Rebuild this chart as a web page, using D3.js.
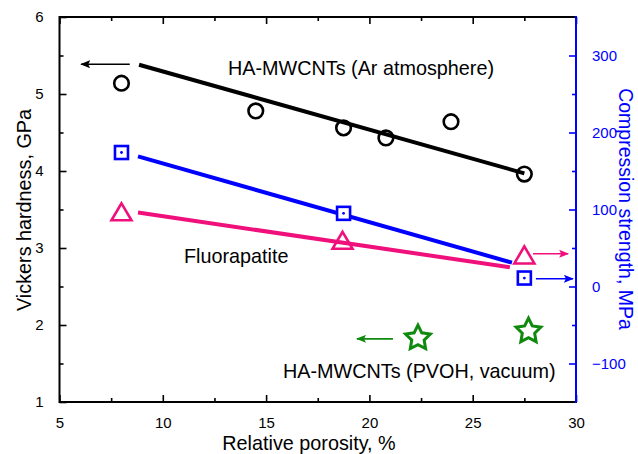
<!DOCTYPE html>
<html>
<head>
<meta charset="utf-8">
<script src="https://cdn.jsdelivr.net/npm/d3@7/dist/d3.min.js"></script>
<style>
  html, body { margin: 0; padding: 0; background: #ffffff; }
  svg { display: block; font-family: Arial, "Liberation Sans", sans-serif; }
</style>
</head>
<body>
<svg id="chart" width="638" height="454"></svg>
<script>
// Hardness (left axis, GPa) and compression strength (right axis, MPa) vs porosity
const arPorosity = [8.0, 14.5, 18.75, 20.8, 23.95, 27.5];
const arHardness = [5.14, 4.78, 4.56, 4.43, 4.64, 3.96];
const arFitX = [8.85, 27.5];
const arFitY = [5.38, 3.97];

const faSquarePorosity = [8.0, 18.75, 27.5];
const faSquareStrength = [174, 95, 11];
const faSquareFitX = [8.8, 26.9];
const faSquareFitY = [169, 31];

const faTrianglePorosity = [8.0, 18.7, 27.5];
const faTriangleStrength = [97, 60, 41];
const faTriangleFitX = [8.8, 26.8];
const faTriangleFitY = [96, 25];

const pvohPorosity = [22.35, 27.7];
const pvohHardness = [1.83, 1.92];

const xTicks = [5, 10, 15, 20, 25, 30];
const xMinor = [7.5, 12.5, 17.5, 22.5, 27.5];
const leftTicks = [1, 2, 3, 4, 5, 6];
const leftMinor = [1.5, 2.5, 3.5, 4.5, 5.5];
const rightTicks = [-100, 0, 100, 200, 300];
const rightMinor = [-50, 50, 150, 250];

const black = "#000000", blue = "#0000ff", pink = "#f0107c", green = "#0f8a0f";

const svg = d3.select("#chart");
const L = 59.5, R = 576, T = 17, B = 402;

const x = d3.scaleLinear().domain([5, 30]).range([L, R]);
const yL = d3.scaleLinear().domain([1, 6]).range([B, T]);
const yR = d3.scaleLinear().domain([-150, 350]).range([B, T]);

// arrowheads
const defs = svg.append("defs");
[["ahBlack", black], ["ahBlue", blue], ["ahPink", pink], ["ahGreen", green]].forEach(([id, c]) => {
  defs.append("marker").attr("id", id).attr("viewBox", "0 0 10 8")
    .attr("refX", 9).attr("refY", 4).attr("markerWidth", 10).attr("markerHeight", 8)
    .attr("markerUnits", "userSpaceOnUse").attr("orient", "auto")
    .append("path").attr("d", "M0,0 L10,4 L0,8 L2,4 Z").attr("fill", c);
});

// axes
function styleAxis(g, color, fs) {
  g.select(".domain").remove();
  g.selectAll("line").attr("stroke", color).attr("stroke-width", 1.6);
  g.selectAll("text").attr("fill", color).attr("font-size", fs)
    .attr("font-family", "Arial, 'Liberation Sans', sans-serif");
}
const fs = 15;
svg.append("g").attr("transform", `translate(0,${B})`)
  .call(d3.axisBottom(x).tickValues(xTicks).tickSize(-7).tickPadding(15).tickFormat(d3.format("d")))
  .call(g => styleAxis(g, black, fs));
svg.append("g").attr("transform", `translate(0,${B})`)
  .call(d3.axisBottom(x).tickValues(xMinor).tickSize(-4).tickFormat(""))
  .call(g => styleAxis(g, black, fs));
svg.append("g").attr("transform", `translate(0,${T})`)
  .call(d3.axisTop(x).tickValues(xTicks).tickSize(-7).tickFormat(""))
  .call(g => styleAxis(g, black, fs));
svg.append("g").attr("transform", `translate(0,${T})`)
  .call(d3.axisTop(x).tickValues(xMinor).tickSize(-4).tickFormat(""))
  .call(g => styleAxis(g, black, fs));
svg.append("g").attr("transform", `translate(${L},0)`)
  .call(d3.axisLeft(yL).tickValues(leftTicks).tickSize(-7).tickPadding(16).tickFormat(d3.format("d")))
  .call(g => styleAxis(g, black, fs));
svg.append("g").attr("transform", `translate(${L},0)`)
  .call(d3.axisLeft(yL).tickValues(leftMinor).tickSize(-4).tickFormat(""))
  .call(g => styleAxis(g, black, fs));
svg.append("g").attr("transform", `translate(${R},0)`)
  .call(d3.axisRight(yR).tickValues(rightTicks).tickSize(-7).tickPadding(16).tickFormat(d3.format("d")))
  .call(g => styleAxis(g, blue, fs));
svg.append("g").attr("transform", `translate(${R},0)`)
  .call(d3.axisRight(yR).tickValues(rightMinor).tickSize(-4).tickFormat(""))
  .call(g => styleAxis(g, blue, fs));
// frame lines
svg.append("path").attr("d", `M${R},${T} L${L},${T} L${L},${B} L${R},${B}`)
  .attr("fill", "none").attr("stroke", black).attr("stroke-width", 2);
svg.append("line").attr("x1", R).attr("x2", R).attr("y1", T - 1).attr("y2", B + 1)
  .attr("stroke", blue).attr("stroke-width", 2);

// axis titles
const tfs = 19.8;
svg.append("text").attr("x", 309).attr("y", 450).attr("text-anchor", "middle")
  .attr("font-size", tfs).attr("fill", black).text("Relative porosity, %");
svg.append("text").attr("transform", "translate(31,210) rotate(-90)").attr("text-anchor", "middle")
  .attr("font-size", tfs).attr("fill", black).text("Vickers hardness, GPa");
svg.append("text").attr("transform", "translate(619,209) rotate(90)").attr("text-anchor", "middle")
  .attr("font-size", 19.5).attr("fill", blue).text("Compression strength, MPa");

// fit lines
const line = (xs, ys, ys2) => d3.line()(xs.map((v, i) => [x(v), ys2(ys[i])]));
svg.append("path").attr("d", line(arFitX, arFitY, yL)).attr("stroke", black).attr("stroke-width", 4).attr("fill", "none");
svg.append("path").attr("d", line(faSquareFitX, faSquareFitY, yR)).attr("stroke", blue).attr("stroke-width", 4).attr("fill", "none");
svg.append("path").attr("d", line(faTriangleFitX, faTriangleFitY, yR)).attr("stroke", pink).attr("stroke-width", 4).attr("fill", "none");

// markers
svg.append("g").selectAll("circle").data(arPorosity).join("circle")
  .attr("cx", d => x(d)).attr("cy", (d, i) => yL(arHardness[i])).attr("r", 7.3)
  .attr("fill", "none").attr("stroke", black).attr("stroke-width", 2.6);

const sq = svg.append("g").selectAll("g").data(faSquarePorosity).join("g")
  .attr("transform", (d, i) => `translate(${x(d)},${yR(faSquareStrength[i])})`);
sq.append("rect").attr("x", -6.5).attr("y", -6.5).attr("width", 13).attr("height", 13)
  .attr("fill", "#fff").attr("stroke", blue).attr("stroke-width", 2.6);
sq.append("circle").attr("r", 1.4).attr("fill", blue);

svg.append("g").selectAll("path").data(faTrianglePorosity).join("path")
  .attr("transform", (d, i) => `translate(${x(d)},${yR(faTriangleStrength[i])})`)
  .attr("d", "M0,-8.5 L10,8.5 L-10,8.5 Z")
  .attr("fill", "none").attr("stroke", pink).attr("stroke-width", 2.6).attr("stroke-linejoin", "miter");

function starPath(ro, ri) {
  const pts = [];
  for (let k = 0; k < 10; k++) {
    const a = -Math.PI / 2 + k * Math.PI / 5;
    const r = k % 2 ? ri : ro;
    pts.push([r * Math.cos(a), r * Math.sin(a)]);
  }
  return d3.line()(pts) + "Z";
}
svg.append("g").selectAll("path").data(pvohPorosity).join("path")
  .attr("transform", (d, i) => `translate(${x(d)},${yL(pvohHardness[i])})`)
  .attr("d", starPath(13, 6.5))
  .attr("fill", "#fff").attr("stroke", green).attr("stroke-width", 3).attr("stroke-linejoin", "miter");

// arrows pointing to the relevant axis
function arrow(x1, x2, yv, ys, color, id) {
  svg.append("line").attr("x1", x(x1)).attr("x2", x(x2)).attr("y1", ys(yv)).attr("y2", ys(yv))
    .attr("stroke", color).attr("stroke-width", 1.6).attr("marker-end", `url(#${id})`);
}
arrow(8.4, 6.05, 5.386, yL, black, "ahBlack");
arrow(27.92, 29.62, 42.5, yR, pink, "ahPink");
arrow(28.06, 29.85, 10, yR, blue, "ahBlue");
arrow(21.14, 19.4, 1.82, yL, green, "ahGreen");

// series labels
svg.append("text").attr("x", 228).attr("y", 75).attr("font-size", tfs).attr("fill", black).text("HA-MWCNTs (Ar atmosphere)");
svg.append("text").attr("x", 184).attr("y", 263).attr("font-size", tfs).attr("fill", black).text("Fluorapatite");
svg.append("text").attr("x", 283).attr("y", 378).attr("font-size", tfs).attr("fill", black).text("HA-MWCNTs (PVOH, vacuum)");
</script>
</body>
</html>
